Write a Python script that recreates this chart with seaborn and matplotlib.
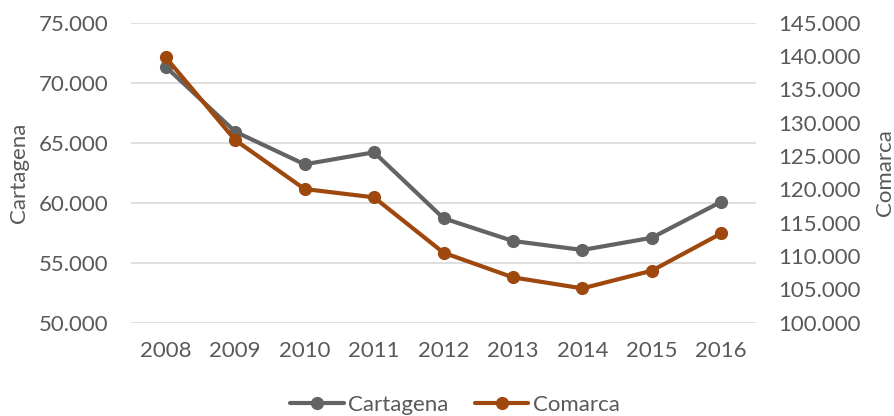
import matplotlib
matplotlib.use("Agg")
import matplotlib.pyplot as plt
import seaborn as sns
import pandas as pd
from matplotlib.ticker import FuncFormatter, MultipleLocator
from matplotlib.lines import Line2D

years = ["2008", "2009", "2010", "2011", "2012", "2013", "2014", "2015", "2016"]
cartagena = [71330, 65920, 63200, 64200, 58700, 56810, 56060, 57080, 60080]
comarca = [139800, 127400, 120050, 118800, 110500, 106800, 105150, 107800, 113400]

df = pd.DataFrame({"year": years, "Cartagena": cartagena, "Comarca": comarca})

sns.set_theme(style="white")
plt.rcParams["font.family"] = ["Lato", "DejaVu Sans"]

GRAY = "#636363"
ORANGE = "#9E480E"
TXT = "#595959"
GRID = "#D9D9D9"
FS = 16

fig = plt.figure(figsize=(8.94, 4.16), dpi=100)
ax = fig.add_axes([131/894, 1-322.7/416, (756-131)/894, 300/416])
ax2 = ax.twinx()

sns.lineplot(data=df, x="year", y="Cartagena", ax=ax, color=GRAY, marker="o",
             markersize=9.5, linewidth=3, markeredgewidth=0, sort=False)
sns.lineplot(data=df, x="year", y="Comarca", ax=ax2, color=ORANGE, marker="o",
             markersize=9.5, linewidth=3, markeredgewidth=0, sort=False)

fmt = FuncFormatter(lambda v, p: f"{int(round(v)):,}".replace(",", "."))
ax.set_ylim(50000, 75000)
ax.yaxis.set_major_locator(MultipleLocator(5000))
ax.yaxis.set_major_formatter(fmt)
ax2.set_ylim(100000, 145000)
ax2.yaxis.set_major_locator(MultipleLocator(5000))
ax2.yaxis.set_major_formatter(fmt)
ax.set_xlim(-0.5, len(years) - 0.5)

ax.grid(axis="y", color=GRID, linewidth=1.2)
ax.set_axisbelow(True)
for a in (ax, ax2):
    for s in a.spines.values():
        s.set_visible(False)
    a.tick_params(length=0, labelsize=FS, colors=TXT)
ax.tick_params(axis="y", pad=16)
ax.tick_params(axis="x", pad=13)
ax2.tick_params(axis="y", pad=16)

ax.set_xlabel("")
ax.set_ylabel("Cartagena", fontsize=FS, color=TXT, labelpad=7)
ax2.set_ylabel("Comarca", fontsize=FS, color=TXT, labelpad=10)

handles = [Line2D([], [], color=GRAY, marker="o", markersize=9.5, linewidth=3, markeredgewidth=0),
           Line2D([], [], color=ORANGE, marker="o", markersize=9.5, linewidth=3, markeredgewidth=0)]
leg = fig.legend(handles, ["Cartagena", "Comarca"], loc="center", ncol=2,
                 bbox_to_anchor=(455/894, 1-405/416), frameon=False, fontsize=FS,
                 handlelength=2.4, handletextpad=0.2, columnspacing=1.2)
for t in leg.get_texts():
    t.set_color(TXT)

fig.savefig("out.png", dpi=100)
